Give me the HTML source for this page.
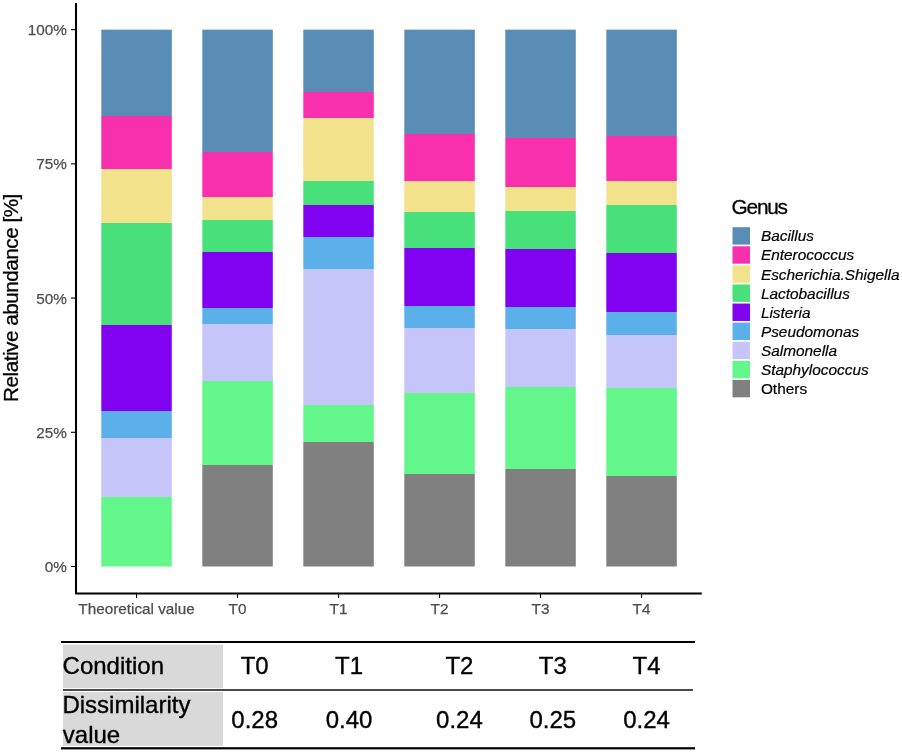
<!DOCTYPE html>
<html><head><meta charset="utf-8"><style>
html,body{margin:0;padding:0;background:#fff;}
body{width:902px;height:753px;overflow:hidden;}
svg{display:block;will-change:transform;}
text{font-family:"Liberation Sans",sans-serif;}
.ax{font-size:15.3px;fill:#4d4d4d;stroke:#4d4d4d;stroke-width:0.25px;}
.lg{font-size:15.4px;fill:#000;stroke:#000;stroke-width:0.2px;}
.tb{font-size:24px;fill:#000;stroke:#000;stroke-width:0.35px;}
</style></head><body>
<svg width="902" height="753" viewBox="0 0 902 753">
<defs><linearGradient id="g0" gradientUnits="userSpaceOnUse" x1="0" y1="29.65" x2="0" y2="566.5"><stop offset="0.000%" stop-color="#598db6"/><stop offset="16.000%" stop-color="#598db6"/><stop offset="16.000%" stop-color="#f930ad"/><stop offset="26.000%" stop-color="#f930ad"/><stop offset="26.000%" stop-color="#f2e28b"/><stop offset="36.000%" stop-color="#f2e28b"/><stop offset="36.000%" stop-color="#47e07a"/><stop offset="55.000%" stop-color="#47e07a"/><stop offset="55.000%" stop-color="#8102f0"/><stop offset="71.000%" stop-color="#8102f0"/><stop offset="71.000%" stop-color="#5cb0ea"/><stop offset="76.000%" stop-color="#5cb0ea"/><stop offset="76.000%" stop-color="#c5c5fa"/><stop offset="87.000%" stop-color="#c5c5fa"/><stop offset="87.000%" stop-color="#63f68a"/><stop offset="100.000%" stop-color="#63f68a"/></linearGradient><linearGradient id="g1" gradientUnits="userSpaceOnUse" x1="0" y1="29.65" x2="0" y2="566.5"><stop offset="0.000%" stop-color="#598db6"/><stop offset="22.846%" stop-color="#598db6"/><stop offset="22.846%" stop-color="#f930ad"/><stop offset="31.117%" stop-color="#f930ad"/><stop offset="31.117%" stop-color="#f2e28b"/><stop offset="35.457%" stop-color="#f2e28b"/><stop offset="35.457%" stop-color="#47e07a"/><stop offset="41.399%" stop-color="#47e07a"/><stop offset="41.399%" stop-color="#8102f0"/><stop offset="51.905%" stop-color="#8102f0"/><stop offset="51.905%" stop-color="#5cb0ea"/><stop offset="54.792%" stop-color="#5cb0ea"/><stop offset="54.792%" stop-color="#c5c5fa"/><stop offset="65.502%" stop-color="#c5c5fa"/><stop offset="65.502%" stop-color="#63f68a"/><stop offset="81.168%" stop-color="#63f68a"/><stop offset="81.168%" stop-color="#808080"/><stop offset="100.000%" stop-color="#808080"/></linearGradient><linearGradient id="g2" gradientUnits="userSpaceOnUse" x1="0" y1="29.65" x2="0" y2="566.5"><stop offset="0.000%" stop-color="#598db6"/><stop offset="11.558%" stop-color="#598db6"/><stop offset="11.558%" stop-color="#f930ad"/><stop offset="16.438%" stop-color="#f930ad"/><stop offset="16.438%" stop-color="#f2e28b"/><stop offset="28.229%" stop-color="#f2e28b"/><stop offset="28.229%" stop-color="#47e07a"/><stop offset="32.570%" stop-color="#47e07a"/><stop offset="32.570%" stop-color="#8102f0"/><stop offset="38.586%" stop-color="#8102f0"/><stop offset="38.586%" stop-color="#5cb0ea"/><stop offset="44.584%" stop-color="#5cb0ea"/><stop offset="44.584%" stop-color="#c5c5fa"/><stop offset="69.843%" stop-color="#c5c5fa"/><stop offset="69.843%" stop-color="#63f68a"/><stop offset="76.809%" stop-color="#63f68a"/><stop offset="76.809%" stop-color="#808080"/><stop offset="100.000%" stop-color="#808080"/></linearGradient><linearGradient id="g3" gradientUnits="userSpaceOnUse" x1="0" y1="29.65" x2="0" y2="566.5"><stop offset="0.000%" stop-color="#598db6"/><stop offset="19.437%" stop-color="#598db6"/><stop offset="19.437%" stop-color="#f930ad"/><stop offset="28.174%" stop-color="#f930ad"/><stop offset="28.174%" stop-color="#f2e28b"/><stop offset="33.929%" stop-color="#f2e28b"/><stop offset="33.929%" stop-color="#47e07a"/><stop offset="40.710%" stop-color="#47e07a"/><stop offset="40.710%" stop-color="#8102f0"/><stop offset="51.495%" stop-color="#8102f0"/><stop offset="51.495%" stop-color="#5cb0ea"/><stop offset="55.556%" stop-color="#5cb0ea"/><stop offset="55.556%" stop-color="#c5c5fa"/><stop offset="67.738%" stop-color="#c5c5fa"/><stop offset="67.738%" stop-color="#63f68a"/><stop offset="82.695%" stop-color="#63f68a"/><stop offset="82.695%" stop-color="#808080"/><stop offset="100.000%" stop-color="#808080"/></linearGradient><linearGradient id="g4" gradientUnits="userSpaceOnUse" x1="0" y1="29.65" x2="0" y2="566.5"><stop offset="0.000%" stop-color="#598db6"/><stop offset="20.145%" stop-color="#598db6"/><stop offset="20.145%" stop-color="#f930ad"/><stop offset="29.217%" stop-color="#f930ad"/><stop offset="29.217%" stop-color="#f2e28b"/><stop offset="33.762%" stop-color="#f2e28b"/><stop offset="33.762%" stop-color="#47e07a"/><stop offset="40.877%" stop-color="#47e07a"/><stop offset="40.877%" stop-color="#8102f0"/><stop offset="51.718%" stop-color="#8102f0"/><stop offset="51.718%" stop-color="#5cb0ea"/><stop offset="55.779%" stop-color="#5cb0ea"/><stop offset="55.779%" stop-color="#c5c5fa"/><stop offset="66.490%" stop-color="#c5c5fa"/><stop offset="66.490%" stop-color="#63f68a"/><stop offset="81.820%" stop-color="#63f68a"/><stop offset="81.820%" stop-color="#808080"/><stop offset="100.000%" stop-color="#808080"/></linearGradient><linearGradient id="g5" gradientUnits="userSpaceOnUse" x1="0" y1="29.65" x2="0" y2="566.5"><stop offset="0.000%" stop-color="#598db6"/><stop offset="19.791%" stop-color="#598db6"/><stop offset="19.791%" stop-color="#f930ad"/><stop offset="28.285%" stop-color="#f930ad"/><stop offset="28.285%" stop-color="#f2e28b"/><stop offset="32.700%" stop-color="#f2e28b"/><stop offset="32.700%" stop-color="#47e07a"/><stop offset="41.585%" stop-color="#47e07a"/><stop offset="41.585%" stop-color="#8102f0"/><stop offset="52.538%" stop-color="#8102f0"/><stop offset="52.538%" stop-color="#5cb0ea"/><stop offset="56.953%" stop-color="#5cb0ea"/><stop offset="56.953%" stop-color="#c5c5fa"/><stop offset="66.676%" stop-color="#c5c5fa"/><stop offset="66.676%" stop-color="#63f68a"/><stop offset="83.161%" stop-color="#63f68a"/><stop offset="83.161%" stop-color="#808080"/><stop offset="100.000%" stop-color="#808080"/></linearGradient></defs>
<rect x="101.30" y="29.65" width="70.50" height="536.85" fill="url(#g0)"/>
<rect x="202.30" y="29.65" width="70.50" height="536.85" fill="url(#g1)"/>
<rect x="303.30" y="29.65" width="70.50" height="536.85" fill="url(#g2)"/>
<rect x="404.30" y="29.65" width="70.50" height="536.85" fill="url(#g3)"/>
<rect x="505.30" y="29.65" width="70.50" height="536.85" fill="url(#g4)"/>
<rect x="606.30" y="29.65" width="70.50" height="536.85" fill="url(#g5)"/>
<path d="M76,2.9 V593.45 H701.8" fill="none" stroke="#000" stroke-width="2.05" stroke-linejoin="round"/>
<line x1="71" y1="29.65" x2="76" y2="29.65" stroke="#000" stroke-width="1.1"/>
<text x="66.8" y="35.25" text-anchor="end" class="ax">100%</text>
<line x1="71" y1="163.86" x2="76" y2="163.86" stroke="#000" stroke-width="1.1"/>
<text x="66.8" y="169.46" text-anchor="end" class="ax">75%</text>
<line x1="71" y1="298.07" x2="76" y2="298.07" stroke="#000" stroke-width="1.1"/>
<text x="66.8" y="303.68" text-anchor="end" class="ax">50%</text>
<line x1="71" y1="432.29" x2="76" y2="432.29" stroke="#000" stroke-width="1.1"/>
<text x="66.8" y="437.89" text-anchor="end" class="ax">25%</text>
<line x1="71" y1="566.50" x2="76" y2="566.50" stroke="#000" stroke-width="1.1"/>
<text x="66.8" y="572.10" text-anchor="end" class="ax">0%</text>
<line x1="136.55" y1="593" x2="136.55" y2="598" stroke="#000" stroke-width="1.1"/>
<text x="136.55" y="613.5" text-anchor="middle" class="ax">Theoretical value</text>
<line x1="237.55" y1="593" x2="237.55" y2="598" stroke="#000" stroke-width="1.1"/>
<text x="237.55" y="613.5" text-anchor="middle" class="ax">T0</text>
<line x1="338.55" y1="593" x2="338.55" y2="598" stroke="#000" stroke-width="1.1"/>
<text x="338.55" y="613.5" text-anchor="middle" class="ax">T1</text>
<line x1="439.55" y1="593" x2="439.55" y2="598" stroke="#000" stroke-width="1.1"/>
<text x="439.55" y="613.5" text-anchor="middle" class="ax">T2</text>
<line x1="540.55" y1="593" x2="540.55" y2="598" stroke="#000" stroke-width="1.1"/>
<text x="540.55" y="613.5" text-anchor="middle" class="ax">T3</text>
<line x1="641.55" y1="593" x2="641.55" y2="598" stroke="#000" stroke-width="1.1"/>
<text x="641.55" y="613.5" text-anchor="middle" class="ax">T4</text>
<text transform="translate(17.9,297.8) rotate(-90)" text-anchor="middle" font-size="20.7" textLength="208.3" fill="#000" stroke="#000" stroke-width="0.3">Relative abundance [%]</text>
<text x="731.6" y="214.4" font-size="20.8" textLength="56.4" fill="#000" stroke="#000" stroke-width="0.3">Genus</text>
<rect x="732.5" y="227.20" width="17.5" height="17.4" fill="#598db6"/>
<text x="760.9" y="241.40" class="lg" font-style="italic">Bacillus</text>
<rect x="732.5" y="246.29" width="17.5" height="17.4" fill="#f930ad"/>
<text x="760.9" y="260.49" class="lg" font-style="italic">Enterococcus</text>
<rect x="732.5" y="265.38" width="17.5" height="17.4" fill="#f2e28b"/>
<text x="760.9" y="279.58" class="lg" font-style="italic">Escherichia.Shigella</text>
<rect x="732.5" y="284.47" width="17.5" height="17.4" fill="#47e07a"/>
<text x="760.9" y="298.67" class="lg" font-style="italic">Lactobacillus</text>
<rect x="732.5" y="303.56" width="17.5" height="17.4" fill="#8102f0"/>
<text x="760.9" y="317.76" class="lg" font-style="italic">Listeria</text>
<rect x="732.5" y="322.65" width="17.5" height="17.4" fill="#5cb0ea"/>
<text x="760.9" y="336.85" class="lg" font-style="italic">Pseudomonas</text>
<rect x="732.5" y="341.74" width="17.5" height="17.4" fill="#c5c5fa"/>
<text x="760.9" y="355.94" class="lg" font-style="italic">Salmonella</text>
<rect x="732.5" y="360.83" width="17.5" height="17.4" fill="#63f68a"/>
<text x="760.9" y="375.03" class="lg" font-style="italic">Staphylococcus</text>
<rect x="732.5" y="379.92" width="17.5" height="17.4" fill="#808080"/>
<text x="760.9" y="394.12" class="lg">Others</text>
<rect x="63" y="644.6" width="160" height="43.6" fill="#d9d9d9"/>
<rect x="63" y="692" width="160" height="53.8" fill="#d9d9d9"/>
<rect x="61" y="641" width="634" height="2" fill="#000"/>
<rect x="63" y="689" width="630" height="2" fill="#4a4a4a"/>
<rect x="61" y="747.2" width="634" height="2.2" fill="#000"/>
<text x="62.6" y="674.2" class="tb">Condition</text>
<text x="62.4" y="713" class="tb">Dissimilarity</text>
<text x="62.8" y="742.6" class="tb">value</text>
<text x="254.7" y="674.2" text-anchor="middle" class="tb">T0</text>
<text x="254.7" y="727.6" text-anchor="middle" class="tb">0.28</text>
<text x="349.0" y="674.2" text-anchor="middle" class="tb">T1</text>
<text x="349.0" y="727.6" text-anchor="middle" class="tb">0.40</text>
<text x="459.4" y="674.2" text-anchor="middle" class="tb">T2</text>
<text x="459.4" y="727.6" text-anchor="middle" class="tb">0.24</text>
<text x="552.8" y="674.2" text-anchor="middle" class="tb">T3</text>
<text x="552.8" y="727.6" text-anchor="middle" class="tb">0.25</text>
<text x="646.5" y="674.2" text-anchor="middle" class="tb">T4</text>
<text x="646.5" y="727.6" text-anchor="middle" class="tb">0.24</text>
</svg>
</body></html>
